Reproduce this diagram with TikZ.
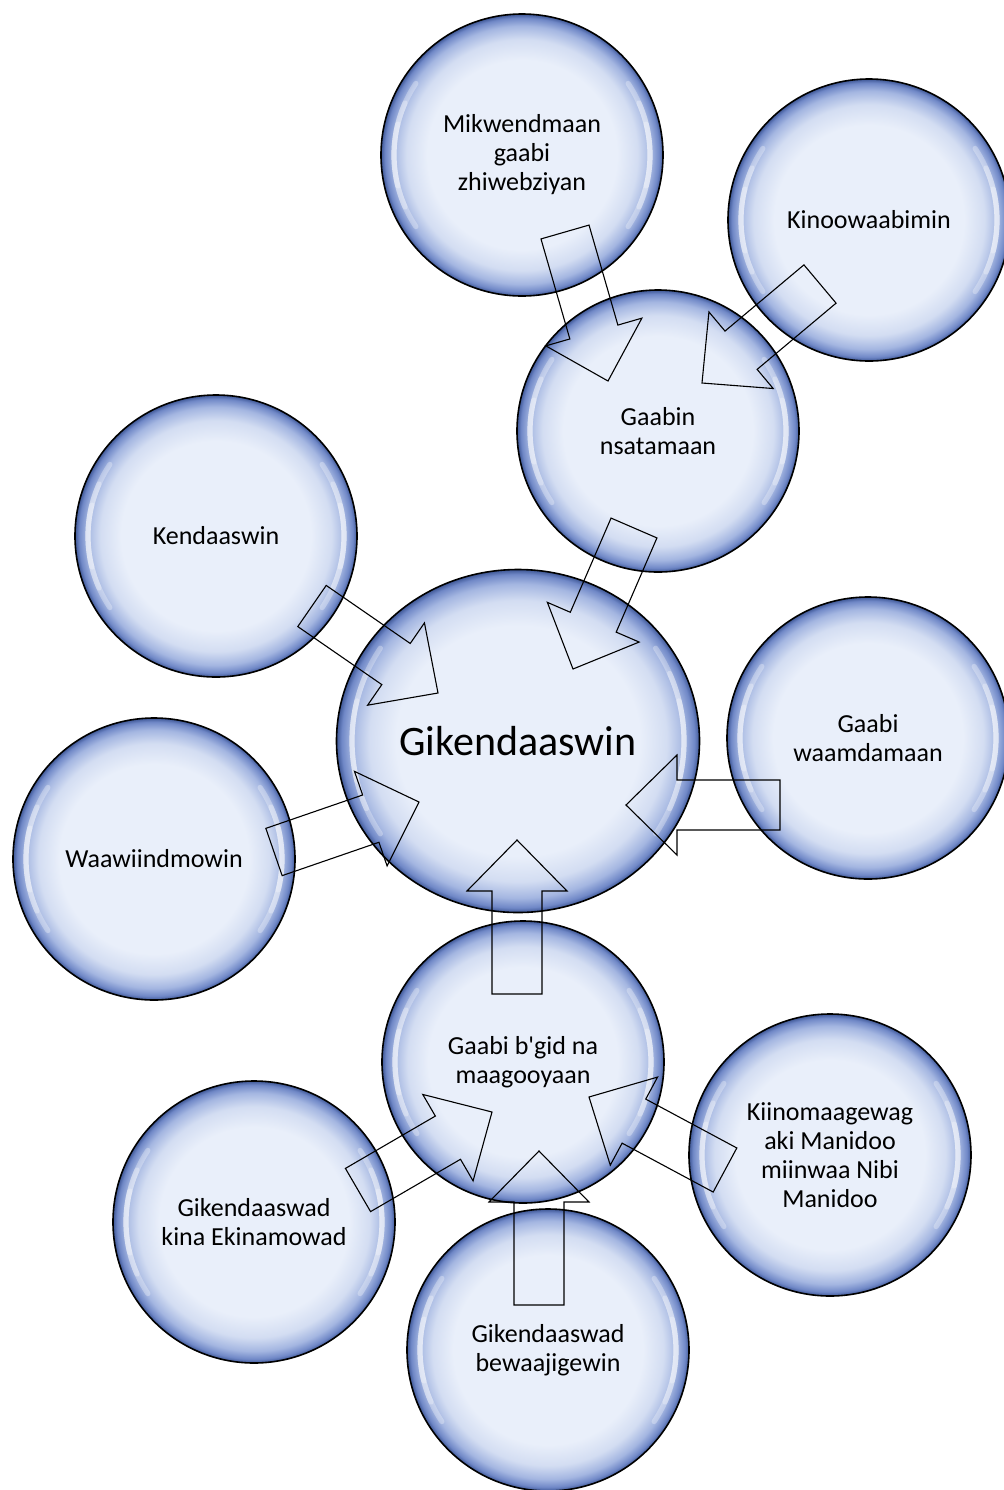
\documentclass[tikz,border=0pt]{standalone}
\usepackage{fontspec}
\setmainfont{Carlito}
\usetikzlibrary{calc, shapes.geometric}
\definecolor{bubcore}{HTML}{E9EFFA}
\definecolor{bubsoft}{HTML}{D3DDF2}
\definecolor{bubmid}{HTML}{A4B6E1}
\definecolor{bubdeep}{HTML}{7088C7}
\definecolor{bubrim}{HTML}{3E5796}

\pgfdeclareradialshading{bubble}{\pgfpoint{0bp}{0bp}}{%
  color(0bp)=(bubcore); color(16.8bp)=(bubcore); color(20.5bp)=(bubsoft);
  color(22.9bp)=(bubmid); color(24.3bp)=(bubdeep);
  color(25bp)=(bubrim); color(50bp)=(bubrim)}

\tikzset{
  glint/.style={white, opacity=0.3, line width=2.6pt, line cap=round},
  bubble/.style={circle, draw=black, line width=0.8pt, shading=bubble,
    minimum size=141pt, inner sep=0pt, align=center,
    font=\fontsize{13}{14.5}\selectfont,
    path picture={
      \foreach \s in {34,24,14}{
        \draw[glint] ([shift={(180-\s:64pt)}]path picture bounding box.center)
          arc[start angle=180-\s, end angle=180+\s, radius=64pt];
        \draw[glint] ([shift={(-\s:64pt)}]path picture bounding box.center)
          arc[start angle=-\s, end angle=\s, radius=64pt];}}},
  bigbubble/.style={bubble, ellipse, minimum width=181.5pt, minimum height=171.5pt,
    font=\fontsize{21}{24}\selectfont,
    path picture={
      \foreach \s in {34,24,14}{
        \draw[glint] ([shift={(180-\s:83pt)}]path picture bounding box.center)
          arc[start angle=180-\s, end angle=180+\s, radius=83pt];
        \draw[glint] ([shift={(-\s:83pt)}]path picture bounding box.center)
          arc[start angle=-\s, end angle=\s, radius=83pt];}}},
  blockarr/.style={draw=black, line width=0.55pt, line join=miter}
}

% block arrow from tail #1 to tip #2
\newcommand{\blockarrow}[2]{%
  \coordinate (ba-h) at ($(#2)!25.5pt!(#1)$);
  \draw[blockarr] ($(#1)!12.5pt!90:(#2)$) -- ($(ba-h)!12.5pt!90:(#2)$)
    -- ($(ba-h)!25pt!90:(#2)$) -- (#2) -- ($(ba-h)!25pt!-90:(#2)$)
    -- ($(ba-h)!12.5pt!-90:(#2)$) -- ($(#1)!12.5pt!-90:(#2)$) -- cycle;}

\begin{document}
\begin{tikzpicture}[x=0.5pt, y=-0.5pt]

\useasboundingbox (0,0) rectangle (1004,1490);

% Bubbles
\node[bubble] (mikwend) at (522,155) {Mikwendmaan\\gaabi\\zhiwebziyan};
\node[bubble] (kinoo) at (869,220) {Kinoowaabimin};
\node[bubble] (nsatam) at (658,431) {Gaabin\\nsatamaan};
\node[bubble] (kendaas) at (216,536) {Kendaaswin};
\node[bigbubble] (giken) at (518,741) {Gikendaaswin};
\node[bubble] (waamdam) at (868,738) {Gaabi\\waamdamaan};
\node[bubble] (waawiind) at (154,859) {Waawiindmowin};
\node[bubble] (bgid) at (523,1062) {Gaabi b\textquotesingle gid na\\maagooyaan};
\node[bubble] (kiinom) at (830,1155) {Kiinomaagewag\\aki Manidoo\\miinwaa Nibi\\Manidoo};
\node[bubble] (ekinam) at (254,1222) {Gikendaaswad\\kina Ekinamowad};
\node[bubble] (bewaaj) at (548,1350) {Gikendaaswad\\bewaajigewin};

% Arrow ends
\coordinate (mikwend-t) at (565,232);
\coordinate (mikwend-h) at (608,381);
\coordinate (kinoo-t) at (820,284);
\coordinate (kinoo-h) at (702,383);
\coordinate (nsatam-t) at (634,528);
\coordinate (nsatam-h) at (573,669);
\coordinate (kendaas-t) at (312,606);
\coordinate (kendaas-h) at (438,693);
\coordinate (waawiind-t) at (274,852);
\coordinate (waawiind-h) at (419,802);
\coordinate (waamdam-t) at (780,805);
\coordinate (waamdam-h) at (626,805);
\coordinate (bgid-t) at (517,994);
\coordinate (bgid-h) at (517,840);
\coordinate (bewaaj-t) at (539,1305);
\coordinate (bewaaj-h) at (539,1151);
\coordinate (ekinam-t) at (358,1190);
\coordinate (ekinam-h) at (492,1112);
\coordinate (kiinom-t) at (725,1170);
\coordinate (kiinom-h) at (589,1097);

% Block arrows
\blockarrow{mikwend-t}{mikwend-h}
\blockarrow{kinoo-t}{kinoo-h}
\blockarrow{nsatam-t}{nsatam-h}
\blockarrow{kendaas-t}{kendaas-h}
\blockarrow{waawiind-t}{waawiind-h}
\blockarrow{waamdam-t}{waamdam-h}
\blockarrow{bgid-t}{bgid-h}
\blockarrow{bewaaj-t}{bewaaj-h}
\blockarrow{ekinam-t}{ekinam-h}
\blockarrow{kiinom-t}{kiinom-h}

\end{tikzpicture}
\end{document}
